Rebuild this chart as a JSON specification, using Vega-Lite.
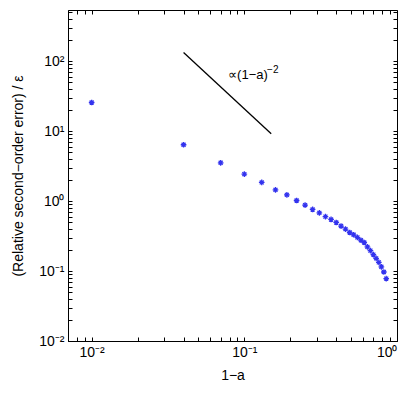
{
  "$schema": "https://vega.github.io/schema/vega-lite/v6.json",
  "autosize": {"type": "none"},
  "padding": {"left": 68, "top": 10, "right": 18, "bottom": 55},
  "width": 329,
  "height": 331,
  "background": "white",
  "config": {
    "view": {"stroke": "black", "strokeWidth": 1},
    "axis": {
      "grid": false,
      "domainColor": "black",
      "tickColor": "black",
      "labelColor": "black",
      "titleColor": "black",
      "labelFont": "Liberation Sans",
      "titleFont": "Liberation Sans",
      "labelFontSize": 14,
      "titleFontSize": 14,
      "titleFontWeight": "normal",
      "tickSize": -4,
      "labelOverlap": false
    }
  },
  "datasets": {
    "pts": [
      {"x": 0.01, "y": 25.7},
      {"x": 0.04, "y": 6.4},
      {"x": 0.07, "y": 3.53},
      {"x": 0.10, "y": 2.43},
      {"x": 0.13, "y": 1.85},
      {"x": 0.16, "y": 1.45},
      {"x": 0.19, "y": 1.23},
      {"x": 0.22, "y": 1.02},
      {"x": 0.25, "y": 0.877},
      {"x": 0.28, "y": 0.76},
      {"x": 0.31, "y": 0.68},
      {"x": 0.34, "y": 0.60},
      {"x": 0.37, "y": 0.547},
      {"x": 0.40, "y": 0.495},
      {"x": 0.43, "y": 0.44},
      {"x": 0.46, "y": 0.398},
      {"x": 0.49, "y": 0.356},
      {"x": 0.52, "y": 0.33},
      {"x": 0.55, "y": 0.303},
      {"x": 0.58, "y": 0.276},
      {"x": 0.61, "y": 0.256},
      {"x": 0.64, "y": 0.222},
      {"x": 0.67, "y": 0.196},
      {"x": 0.70, "y": 0.172},
      {"x": 0.73, "y": 0.152},
      {"x": 0.76, "y": 0.133},
      {"x": 0.79, "y": 0.115},
      {"x": 0.82, "y": 0.097},
      {"x": 0.85, "y": 0.078}
    ],
    "slope": [
      {"x": 0.04, "y": 133},
      {"x": 0.15, "y": 9.2}
    ],
    "ann": [
      {"x": 0.0783, "y": 55.3, "t": "∝(1−a)", "s": 13},
      {"x": 0.141, "y": 67.4, "t": "−2", "s": 10}
    ]
  },
  "layer": [
    {
      "data": {"name": "pts"},
      "mark": {"type": "point", "shape": "M-1,0L1,0M0,-1L0,1M-0.7,-0.7L0.7,0.7M-0.7,0.7L0.7,-0.7", "filled": false, "stroke": "#3333ee", "strokeWidth": 1.3, "size": 32, "opacity": 1},
      "encoding": {
        "x": {
          "field": "x", "type": "quantitative",
          "scale": {"type": "log", "domain": [0.007, 1], "nice": false, "zero": false},
          "axis": {
            "orient": "bottom",
            "title": "1−a",
            "titlePadding": 9,
            "labelPadding": 8,
            "values": [0.008, 0.009, 0.01, 0.02, 0.03, 0.04, 0.05, 0.06, 0.07, 0.08, 0.09, 0.1, 0.2, 0.3, 0.4, 0.5, 0.6, 0.7, 0.8, 0.9, 1],
            "labelExpr": "datum.value == 0.01 ? '10⁻²' : datum.value == 0.1 ? '10⁻¹' : datum.value == 1 ? '10⁰' : ''"
          }
        },
        "y": {
          "field": "y", "type": "quantitative",
          "scale": {"type": "log", "domain": [0.01, 540], "nice": false, "zero": false},
          "axis": {
            "orient": "left",
            "title": "(Relative second−order error) / ε",
            "titlePadding": 13,
            "labelPadding": 8,
            "values": [0.01, 0.02, 0.03, 0.04, 0.05, 0.06, 0.07, 0.08, 0.09, 0.1, 0.2, 0.3, 0.4, 0.5, 0.6, 0.7, 0.8, 0.9, 1, 2, 3, 4, 5, 6, 7, 8, 9, 10, 20, 30, 40, 50, 60, 70, 80, 90, 100, 200, 300, 400, 500],
            "labelExpr": "datum.value == 0.01 ? '10⁻²' : datum.value == 0.1 ? '10⁻¹' : datum.value == 1 ? '10⁰' : datum.value == 10 ? '10¹' : datum.value == 100 ? '10²' : ''"
          }
        }
      }
    },
    {
      "data": {"name": "slope"},
      "mark": {"type": "line", "color": "black", "strokeWidth": 1.3},
      "encoding": {
        "x": {
          "field": "x", "type": "quantitative",
          "scale": {"type": "log", "domain": [0.007, 1], "nice": false, "zero": false},
          "axis": {
            "orient": "top", "title": null, "labels": false, "domain": false,
            "values": [0.008, 0.009, 0.01, 0.02, 0.03, 0.04, 0.05, 0.06, 0.07, 0.08, 0.09, 0.1, 0.2, 0.3, 0.4, 0.5, 0.6, 0.7, 0.8, 0.9, 1]
          }
        },
        "y": {
          "field": "y", "type": "quantitative",
          "scale": {"type": "log", "domain": [0.01, 540], "nice": false, "zero": false},
          "axis": {
            "orient": "right", "title": null, "labels": false, "domain": false,
            "values": [0.01, 0.02, 0.03, 0.04, 0.05, 0.06, 0.07, 0.08, 0.09, 0.1, 0.2, 0.3, 0.4, 0.5, 0.6, 0.7, 0.8, 0.9, 1, 2, 3, 4, 5, 6, 7, 8, 9, 10, 20, 30, 40, 50, 60, 70, 80, 90, 100, 200, 300, 400, 500]
          }
        }
      }
    },
    {
      "data": {"name": "ann"},
      "mark": {"type": "text", "align": "left", "baseline": "alphabetic", "font": "Liberation Sans", "color": "black"},
      "encoding": {
        "x": {"field": "x", "type": "quantitative", "scale": {"type": "log", "domain": [0.007, 1], "nice": false, "zero": false}, "axis": null},
        "y": {"field": "y", "type": "quantitative", "scale": {"type": "log", "domain": [0.01, 540], "nice": false, "zero": false}, "axis": null},
        "text": {"field": "t"},
        "size": {"field": "s", "type": "quantitative", "scale": null}
      }
    }
  ],
  "resolve": {"axis": {"x": "independent", "y": "independent"}}
}
